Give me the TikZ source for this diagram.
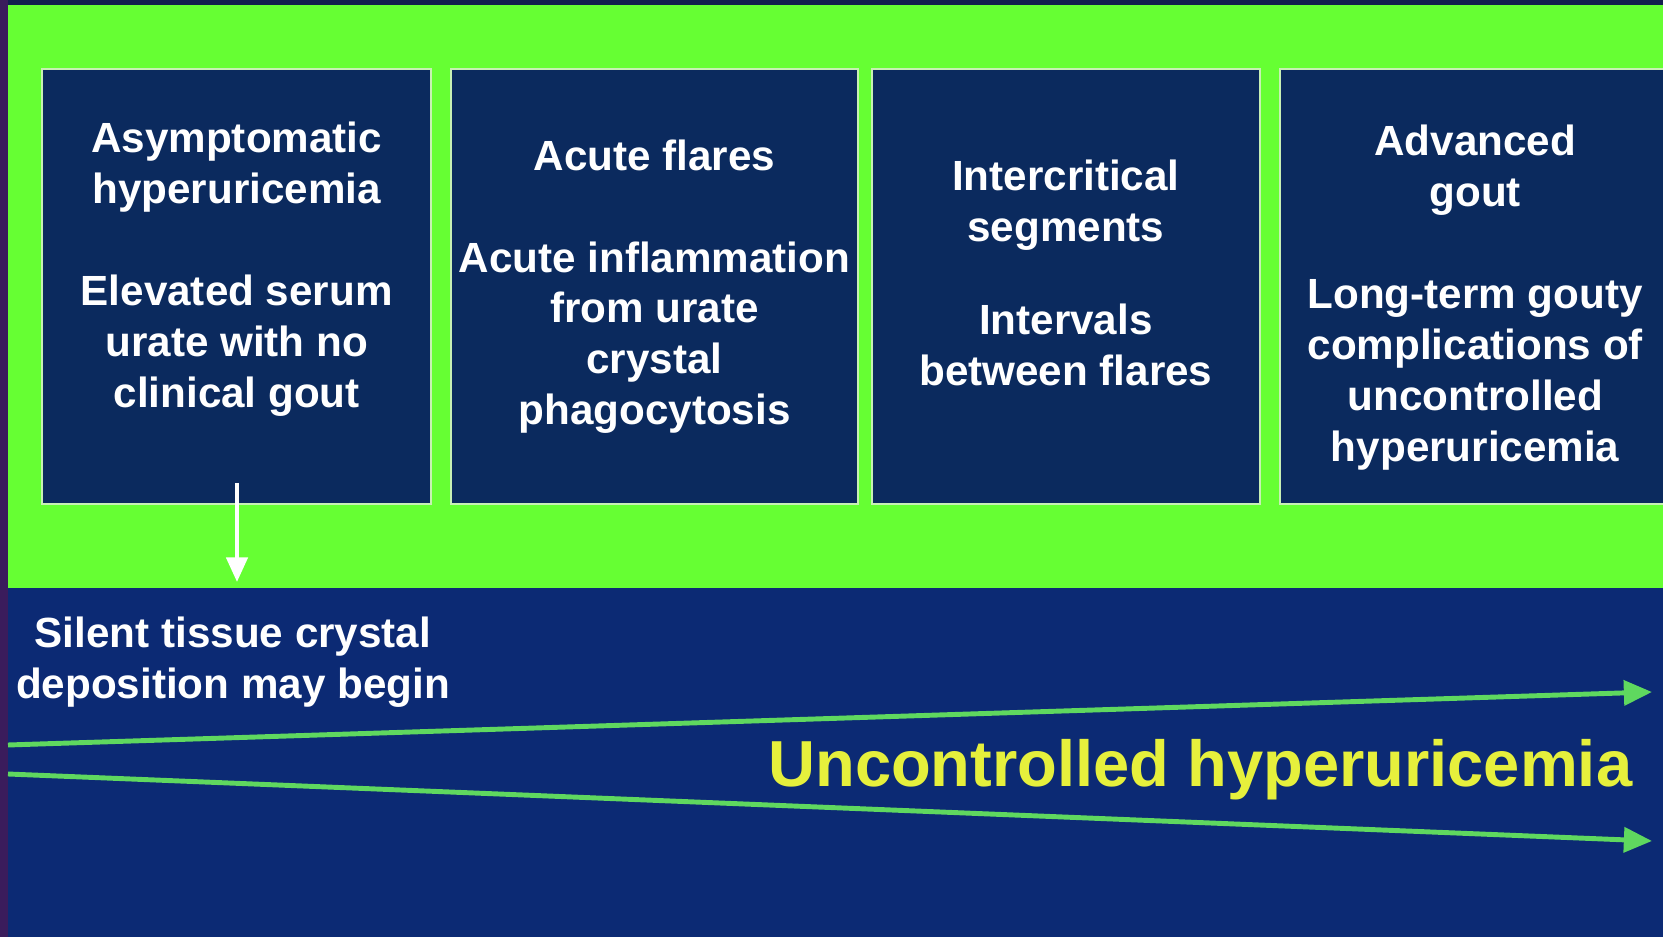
\documentclass[tikz,border=0pt]{standalone}
\usepackage{fontspec}
\setmainfont{Liberation Sans}
\usetikzlibrary{arrows.meta,positioning}
\definecolor{limebg}{HTML}{66FF33}
\definecolor{navybox}{HTML}{0B2A5E}
\definecolor{navylow}{HTML}{0C2A74}
\definecolor{edgeline}{HTML}{C8F0B4}
\definecolor{sidebar}{HTML}{3A1C5C}
\definecolor{topbar}{HTML}{12204E}
\definecolor{trendgreen}{HTML}{5FD85F}
\definecolor{titleyellow}{HTML}{E6F03C}

\begin{document}
\begin{tikzpicture}[
  x=0.01cm, y=-0.01cm,
  font=\bfseries\fontsize{12}{14.5}\selectfont,
  stage/.style={draw=edgeline, line width=0.6pt, fill=navybox, minimum height=4.35cm, inner sep=0pt},
  caption/.style={text=white, align=center, inner sep=0pt},
  trend/.style={-{Triangle[length=8pt,width=7pt]}, line width=1.4pt, draw=trendgreen},
  drop/.style={-{Triangle[length=7pt,width=6pt]}, line width=1.2pt, white}
]
\clip (0,0) rectangle (1663,937);
\fill[topbar] (0,0) rectangle (1663,937);
\fill[limebg] (8,5) rectangle (1663,588);
\fill[navylow] (8,588) rectangle (1663,937);
\fill[sidebar] (0,0) rectangle (8,937);

% stage boxes
\node[stage, minimum width=3.89cm, anchor=north west] (a) at (41,68) {};
\node[stage, minimum width=4.06cm, right=1.8mm of a] (b) {};
\node[stage, minimum width=3.88cm, right=1.2mm of b] (c) {};
\node[stage, minimum width=3.9cm, right=1.8mm of c] (d) {};

\node[caption] (a-txt) at ([yshift=5pt]a.center) {Asymptomatic\\hyperuricemia\\[14.5pt]Elevated serum\\urate with no\\clinical gout};
\node[caption] (b-txt) at (b.center) {Acute flares\\[14.5pt]Acute inflammation\\from urate\\crystal\\phagocytosis};
\node[caption] (c-txt) at ([yshift=4pt]c.center) {Intercritical\\segments\\[12pt]Intervals\\between flares};
\node[caption] (d-txt) at ([yshift=-3pt]d.center) {Advanced\\gout\\[14.5pt]Long-term gouty\\complications of\\uncontrolled\\hyperuricemia};

% lower band
\node[caption] (silent) at (233,662) {Silent tissue crystal\\deposition may begin};
\node[text=titleyellow, font=\bfseries\fontsize{18.5}{22}\selectfont, anchor=east, inner sep=0pt] (title) at (1633,770) {Uncontrolled hyperuricemia};

\coordinate (drop-top) at (237,483);
\coordinate (drop-end) at (237,582);
\draw[drop] (drop-top) -- (drop-end);

\coordinate (up-start) at (8,745);
\coordinate (up-end) at (1652,692);
\coordinate (low-start) at (8,774);
\coordinate (low-end) at (1652,841);
\draw[trend] (up-start) -- (up-end);
\draw[trend] (low-start) -- (low-end);
\end{tikzpicture}
\end{document}
